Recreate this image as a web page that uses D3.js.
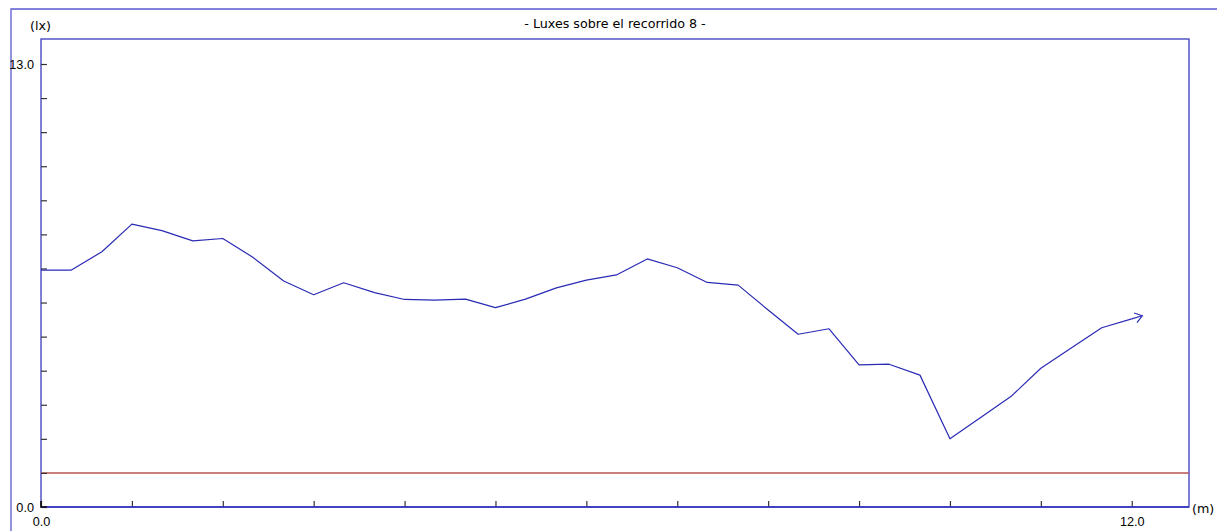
<!DOCTYPE html>
<html>
<head>
<meta charset="utf-8">
<script src="https://cdn.jsdelivr.net/npm/d3@7"></script>
<style>
  html, body { margin: 0; padding: 0; background: #fff; }
  svg { display: block; font-family: "DejaVu Sans", Verdana, sans-serif; }
</style>
</head>
<body>
<svg id="chart" width="1217" height="531"></svg>
<script>
// Illuminance (lx) measured along path 8, distance in metres
const distances = [
  0.00, 0.33, 0.67, 1.00, 1.33, 1.67, 2.00, 2.33, 2.67, 3.00,
  3.33, 3.67, 4.00, 4.33, 4.67, 5.00, 5.33, 5.67, 6.00, 6.33,
  6.67, 7.00, 7.33, 7.67, 8.00, 8.33, 8.67, 9.00, 9.33, 9.67,
  10.00, 10.33, 10.67, 11.00, 11.33, 11.67, 12.00
];
const luxValues = [
  6.95, 6.95, 7.49, 8.30, 8.11, 7.81, 7.88, 7.33, 6.63, 6.23,
  6.58, 6.29, 6.09, 6.07, 6.10, 5.85, 6.10, 6.43, 6.66, 6.81,
  7.28, 7.02, 6.59, 6.51, 5.78, 5.07, 5.23, 4.17, 4.19, 3.87,
  2.00, 2.61, 3.24, 4.07, 4.66, 5.26, 5.52
];
const referenceLevel = [1.0];          // minimum required level
const yTicks = d3.range(0, 14);        // 0 .. 13 lx
const xTicks = d3.range(0, 13);        // 0 .. 12 m
const yLabels = ["0.0", "13.0"];
const xLabels = ["0.0", "12.0"];
const titleText = "- Luxes sobre el recorrido 8 -";
const yUnit = "(lx)";
const xUnit = "(m)";

const fontSize = "12.7px";
const svg = d3.select("#chart");
const plot = { left: 41, right: 1189, top: 39, bottom: 507 };

const x = d3.scaleLinear().domain([0, 12.63]).range([plot.left, plot.right]);
const y = d3.scaleLinear().domain([0, 13]).range([plot.bottom, 64]);

// outer frame
svg.append("path")
  .attr("d", `M11,540 L11,9 L1230,9`)
  .attr("fill", "none").attr("stroke", "#5a5ad0").attr("stroke-width", 1.3);

// plot frame
svg.append("rect")
  .attr("x", plot.left).attr("y", plot.top)
  .attr("width", plot.right - plot.left).attr("height", plot.bottom - plot.top)
  .attr("fill", "none").attr("stroke", "#3a3abf").attr("stroke-width", 1.3);

// reference level
svg.append("line")
  .attr("x1", plot.left).attr("x2", plot.right)
  .attr("y1", y(referenceLevel[0])).attr("y2", y(referenceLevel[0]))
  .attr("stroke", "#b85555").attr("stroke-width", 1.5);

// y axis
const yAxis = d3.axisLeft(y)
  .tickValues(yTicks)
  .tickSizeInner(-6).tickSizeOuter(0).tickPadding(7)
  .tickFormat(d => d === 0 ? yLabels[0] : d === 13 ? yLabels[1] : "");
const gy = svg.append("g").attr("transform", `translate(${plot.left},0)`).call(yAxis);
gy.select(".domain").remove();
gy.selectAll(".tick line").attr("stroke", "#333").attr("stroke-width", 1.2);
gy.selectAll(".tick text").attr("fill", "#000").style("font-size", fontSize);

// x axis
const xAxis = d3.axisBottom(x)
  .tickValues(xTicks)
  .tickSizeInner(-6).tickSizeOuter(0).tickPadding(10)
  .tickFormat(d => d === 0 ? xLabels[0] : d === 12 ? xLabels[1] : "");
const gx = svg.append("g").attr("transform", `translate(0,${plot.bottom})`).call(xAxis);
gx.select(".domain").remove();
gx.selectAll(".tick line").attr("stroke", "#333").attr("stroke-width", 1.2);
gx.selectAll(".tick text").attr("fill", "#000").style("font-size", fontSize);

// bottom axis line drawn over the ticks
svg.append("line")
  .attr("x1", plot.left).attr("x2", plot.right)
  .attr("y1", plot.bottom).attr("y2", plot.bottom)
  .attr("stroke", "#3030bb").attr("stroke-width", 1.3);

// origin corner
svg.append("path")
  .attr("d", `M${plot.left},${plot.bottom - 6} L${plot.left},${plot.bottom} L${plot.left + 6},${plot.bottom}`)
  .attr("fill", "none").attr("stroke", "#111").attr("stroke-width", 1.6);

// measured curve
const pts = distances.map((d, i) => [x(d), y(luxValues[i])]);
const line = d3.line();
svg.append("path")
  .attr("d", line(pts))
  .attr("fill", "none").attr("stroke", "#2a2ab5").attr("stroke-width", 1.2)
  .attr("stroke-linejoin", "round");

// direction arrow extending beyond the last point
const [ax, ay] = pts[pts.length - 2];
const [bx, by] = pts[pts.length - 1];
const len = Math.hypot(bx - ax, by - ay);
const ux = (bx - ax) / len, uy = (by - ay) / len;
const tipX = bx + ux * 11, tipY = by + uy * 11;
const px = -uy, py = ux;
svg.append("path")
  .attr("d", `M${bx},${by} L${tipX},${tipY}`)
  .attr("fill", "none").attr("stroke", "#2a2ab5").attr("stroke-width", 1.2);
svg.append("path")
  .attr("d", `M${tipX - ux * 7 + px * 5},${tipY - uy * 7 + py * 5} L${tipX},${tipY} L${tipX - ux * 7 - px * 5},${tipY - uy * 7 - py * 5}`)
  .attr("fill", "none").attr("stroke", "#2a2ab5").attr("stroke-width", 1.2);

// title and unit labels
svg.append("text")
  .attr("x", (plot.left + plot.right) / 2).attr("y", 28)
  .attr("text-anchor", "middle").style("font-size", fontSize)
  .text(titleText);
svg.append("text")
  .attr("x", 30).attr("y", 30)
  .style("font-size", fontSize)
  .text(yUnit);
svg.append("text")
  .attr("x", 1192).attr("y", 509)
  .attr("dy", "0.32em")
  .style("font-size", fontSize)
  .text(xUnit);
</script>
</body>
</html>
